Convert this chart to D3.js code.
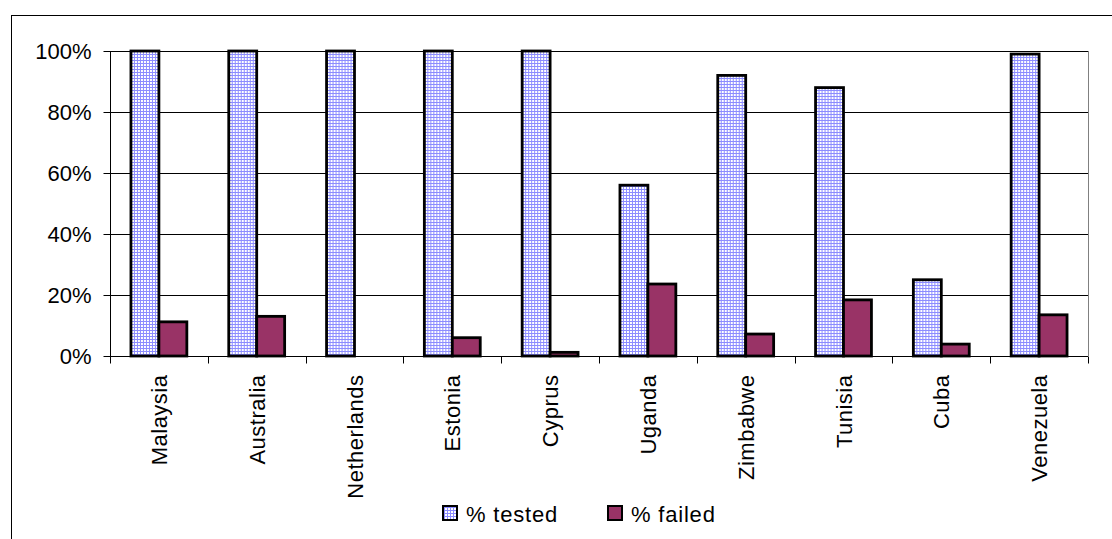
<!DOCTYPE html>
<html><head><meta charset="utf-8">
<script src="https://cdn.jsdelivr.net/npm/d3@7"></script>
<style>body{margin:0;background:#fff}svg{display:block}text{font-family:"Liberation Sans",Arial,sans-serif;fill:#000}</style>
</head><body><svg id="c" width="1112" height="539"></svg>
<script>
const categories = ["Malaysia","Australia","Netherlands","Estonia","Cyprus","Uganda","Zimbabwe","Tunisia","Cuba","Venezuela"];
const tested = [100,100,100,100,100,56,92,88,25,99];
const failed = [11.2,13,0,6,1.2,23.6,7.2,18.4,3.9,13.5];
const seriesNames = ["% tested","% failed"];
const yTicks = [0,20,40,60,80,100];

const FS = 22;
const svg = d3.select("#c");
const defs = svg.append("defs");
const pat = defs.append("pattern").attr("id","grid").attr("width",3).attr("height",3).attr("patternUnits","userSpaceOnUse");
pat.append("rect").attr("width",3).attr("height",3).attr("fill","#ffffff");
pat.append("rect").attr("width",3).attr("height",1).attr("fill","#8c8cff");
pat.append("rect").attr("width",1).attr("height",3).attr("fill","#8c8cff");

// outer frame
svg.append("rect").attr("x",11.5).attr("y",15.5).attr("width",1120).attr("height",540).attr("fill","none").attr("stroke","#000").attr("stroke-width",1);

const m = {l:110, r:1088, t:51, b:356};
const x = d3.scaleBand().domain(categories).range([m.l,m.r]);
const y = d3.scaleLinear().domain([0,100]).range([m.b,m.t]);
const barW = x.bandwidth()/3.5;
const x1 = d3.scaleBand().domain(seriesNames).range([0,barW*2]);

// gridlines
svg.append("g").selectAll("line").data(yTicks.filter(d=>d>0)).join("line")
  .attr("x1",m.l).attr("x2",m.r).attr("y1",d=>Math.round(y(d))+0.5).attr("y2",d=>Math.round(y(d))+0.5)
  .attr("stroke","#000").attr("stroke-width",1);
svg.append("line").attr("x1",m.r+0.5).attr("x2",m.r+0.5).attr("y1",m.t).attr("y2",m.b).attr("stroke","#808080");

const data = categories.map((c,i)=>({c, vals:[{s:seriesNames[0],v:tested[i]},{s:seriesNames[1],v:failed[i]}]}));
const g = svg.append("g").selectAll("g").data(data).join("g")
  .attr("transform",d=>`translate(${x(d.c)+(x.bandwidth()-barW*2)/2},0)`);
g.selectAll("rect").data(d=>d.vals).join("rect")
  .attr("x",d=>x1(d.s)).attr("width",x1.bandwidth())
  .attr("y",d=>y(d.v)).attr("height",d=>y(0)-y(d.v))
  .attr("fill",d=>d.s===seriesNames[0]?"url(#grid)":"#993366")
  .attr("stroke","#000").attr("stroke-width",2.8)
  .attr("display",d=>d.v>0?null:"none");

// y axis
const ya = svg.append("g").attr("transform",`translate(${m.l+0.5},0)`)
  .call(d3.axisLeft(y).tickValues(yTicks).tickFormat(d=>d+"%").tickSize(7).tickPadding(12));
ya.select(".domain").attr("stroke","#000").attr("d",`M-0,${m.t}V${m.b}`);
ya.selectAll(".tick line").attr("stroke","#000");
ya.selectAll("text").attr("font-size",FS).attr("font-family","Liberation Sans, Arial, sans-serif");

// x axis
const xa = svg.append("g").attr("transform",`translate(0,${m.b+0.5})`);
xa.append("line").attr("x1",m.l).attr("x2",m.r).attr("stroke","#000");
xa.selectAll("line.tk").data(d3.range(categories.length+1)).join("line").attr("class","tk")
  .attr("x1",i=>Math.round(m.l+i*x.step())+0.5).attr("x2",i=>Math.round(m.l+i*x.step())+0.5)
  .attr("y1",0).attr("y2",7).attr("stroke","#000");
xa.selectAll("text").data(categories).join("text")
  .attr("transform",d=>`translate(${x(d)+x.bandwidth()/2+8},18) rotate(-90)`)
  .attr("text-anchor","end").attr("font-size",FS).attr("letter-spacing",0.5).text(d=>d);

// legend
const leg = svg.append("g");
const items = [{s:seriesNames[0],x:443},{s:seriesNames[1],x:608}];
items.forEach(it=>{
  leg.append("rect").attr("x",it.x).attr("y",506).attr("width",14).attr("height",14)
    .attr("fill",it.s===seriesNames[0]?"url(#grid)":"#993366").attr("stroke","#000").attr("stroke-width",2);
  leg.append("text").attr("x",it.x+23).attr("y",522).attr("font-size",FS).attr("letter-spacing",0.8).text(it.s);
});
</script></body></html>
